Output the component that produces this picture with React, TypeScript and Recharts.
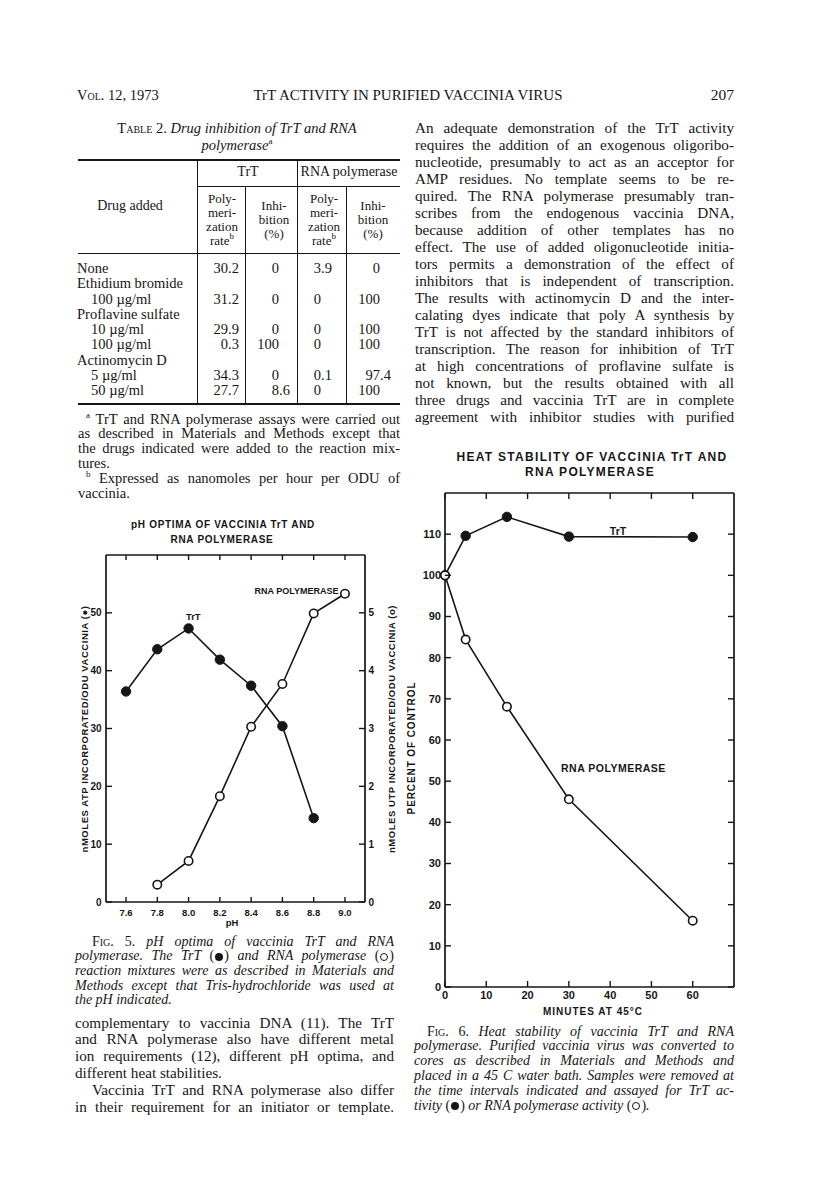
import React from "react";
import { LineChart, Line, XAxis, YAxis, ReferenceDot } from "recharts";

const INK = "#161616";
const SERIF = "'Liberation Serif', 'Times New Roman', serif";
const SANS = "'Liberation Sans', Arial, sans-serif";

// Fig. 5 – pH optima
const PH = [7.6, 7.8, 8.0, 8.2, 8.4, 8.6, 8.8, 9.0];
const TRT_ATP = [36.4, 43.7, 47.3, 41.9, 37.4, 30.4, 14.5, null];
const RNA_UTP = [null, 0.3, 0.71, 1.83, 3.03, 3.77, 4.99, 5.33];
const ATP_TICKS = [0, 10, 20, 30, 40, 50];
const UTP_TICKS = [0, 1, 2, 3, 4, 5];

// Fig. 6 – heat stability
const MINUTES = [0, 5, 15, 30, 60];
const TRT_PCT = [100, 109.6, 114.2, 109.4, 109.3];
const RNA_PCT = [100, 84.4, 68.1, 45.6, 16.1];
const MIN_TICKS = [0, 10, 20, 30, 40, 50, 60];
const PCT_TICKS = [0, 10, 20, 30, 40, 50, 60, 70, 80, 90, 100, 110];

// Table 2
const DRUGS = ["None", "Ethidium bromide", "100 \u00b5g/ml", "Proflavine sulfate", "10 \u00b5g/ml", "100 \u00b5g/ml", "Actinomycin D", "5 \u00b5g/ml", "50 \u00b5g/ml"];
const DOSE_ROW = [false, false, true, false, true, true, false, true, true];
const TRT_RATE = ["30.2", "", "31.2", "", "29.9", "0.3", "", "34.3", "27.7"];
const TRT_INHIB = ["0", "", "0", "", "0", "100", "", "0", "8.6"];
const RNA_RATE = ["3.9", "", "0", "", "0", "0", "", "0.1", "0"];
const RNA_INHIB = ["0", "", "100", "", "100", "100", "", "97.4", "100"];

const AXIS = { stroke: INK, strokeWidth: 1.7 };
const tickFont = { fontFamily: SANS, fontWeight: 700, fill: INK };

const bottomTick = (size: number, len: number, gap: number, fmt: (v: number) => string) => (p: any) => (
  <g>
    <line x1={p.x} x2={p.x} y1={p.y} y2={p.y - len} stroke={INK} strokeWidth={1.4} />
    <text x={p.x} y={p.y + gap} dy="0.35em" textAnchor="middle" fontSize={size} {...tickFont}>
      {fmt(p.payload.value)}
    </text>
  </g>
);

const topTick = (len: number) => (p: any) => (
  <line x1={p.x} x2={p.x} y1={p.y} y2={p.y + len} stroke={INK} strokeWidth={1.4} />
);

const leftTick = (size: number, len: number, gap: number) => (p: any) => (
  <g>
    <line x1={p.x} x2={p.x + len} y1={p.y} y2={p.y} stroke={INK} strokeWidth={1.4} />
    <text x={p.x - gap} y={p.y} dy="0.35em" textAnchor="end" fontSize={size} {...tickFont}>
      {p.payload.value}
    </text>
  </g>
);

const rightTick = (size: number, len: number, gap: number, show: boolean) => (p: any) => (
  <g>
    <line x1={p.x} x2={p.x - len} y1={p.y} y2={p.y} stroke={INK} strokeWidth={1.4} />
    {show && (
      <text x={p.x + gap} y={p.y} dy="0.35em" textAnchor="start" fontSize={size} {...tickFont}>
        {p.payload.value}
      </text>
    )}
  </g>
);

const FILLED = { r: 4.7, fill: INK, stroke: INK, strokeWidth: 1 };
const OPEN = { r: 4.2, fill: "#fff", stroke: INK, strokeWidth: 1.6 };

function PhChart() {
  const data = PH.map((ph, i) => ({ ph, trt: TRT_ATP[i], rna: RNA_UTP[i] }));
  const dom: [number, number] = [7.472, 9.128];
  return (
    <div style={{ position: "absolute", left: 60, top: 500 }}>
      <LineChart width={350} height={440} data={data} margin={{ top: 0, right: 0, bottom: 0, left: 0 }}>
        <XAxis xAxisId="top" orientation="top" dataKey="ph" type="number" domain={dom} ticks={PH} interval={0}
          height={55} tickSize={0} tickMargin={0} tickLine={false} axisLine={AXIS} tick={topTick(5)} />
        <XAxis xAxisId="bottom" dataKey="ph" type="number" domain={dom} ticks={PH} interval={0}
          height={38} tickSize={0} tickMargin={0} tickLine={false} axisLine={AXIS}
          tick={bottomTick(9.5, 5, 11, (v) => v.toFixed(1))} />
        <YAxis yAxisId="atp" domain={[0, 60]} ticks={ATP_TICKS} interval={0} width={46}
          tickSize={0} tickMargin={0} tickLine={false} axisLine={AXIS} tick={leftTick(10, 6, 4.5)} />
        <YAxis yAxisId="utp" orientation="right" domain={[0, 6]} ticks={UTP_TICKS} interval={0} width={45}
          tickSize={0} tickMargin={0} tickLine={false} axisLine={AXIS} tick={rightTick(10, 6, 3.5, true)} />
        <Line xAxisId="top" yAxisId="atp" type="linear" dataKey="trt" stroke={INK} strokeWidth={1.6}
          dot={FILLED} activeDot={false} isAnimationActive={false} />
        <Line xAxisId="bottom" yAxisId="utp" type="linear" dataKey="rna" stroke={INK} strokeWidth={1.6}
          dot={OPEN} activeDot={false} isAnimationActive={false} />
        <ReferenceDot xAxisId="bottom" yAxisId="atp" x={8.03} y={49.3} r={0} fill="none" stroke="none"
          label={{ value: "TrT", position: "center", fontSize: 9.5, fontWeight: 700, fontFamily: SANS, fill: INK }} />
        <ReferenceDot xAxisId="bottom" yAxisId="utp" x={8.69} y={5.38} r={0} fill="none" stroke="none"
          label={{ value: "RNA  POLYMERASE", position: "center", fontSize: 9, fontWeight: 700, fontFamily: SANS, fill: INK }} />
      </LineChart>
    </div>
  );
}

function HeatChart() {
  const data = MINUTES.map((m, i) => ({ m, trt: TRT_PCT[i], rna: RNA_PCT[i] }));
  return (
    <div style={{ position: "absolute", left: 400, top: 440 }}>
      <LineChart width={360} height={577} data={data} margin={{ top: 0, right: 0, bottom: 0, left: 0 }}>
        <XAxis xAxisId="top" orientation="top" dataKey="m" type="number" domain={[0, 70]} ticks={MIN_TICKS} interval={0}
          height={53} tickSize={0} tickMargin={0} tickLine={false} axisLine={AXIS} tick={topTick(6)} />
        <XAxis xAxisId="bottom" dataKey="m" type="number" domain={[0, 70]} ticks={MIN_TICKS} interval={0}
          height={30} tickSize={0} tickMargin={0} tickLine={false} axisLine={AXIS}
          tick={bottomTick(11, 6, 8, (v) => String(v))} />
        <YAxis yAxisId="pct" domain={[0, 120]} ticks={PCT_TICKS} interval={0} width={45}
          tickSize={0} tickMargin={0} tickLine={false} axisLine={AXIS} tick={leftTick(11, 6, 4)} />
        <YAxis yAxisId="pctR" orientation="right" domain={[0, 120]} ticks={PCT_TICKS} interval={0} width={26}
          tickSize={0} tickMargin={0} tickLine={false} axisLine={AXIS} tick={rightTick(11, 6, 3, false)} />
        <Line xAxisId="top" yAxisId="pct" type="linear" dataKey="trt" stroke={INK} strokeWidth={1.6}
          dot={FILLED} activeDot={false} isAnimationActive={false} />
        <Line xAxisId="bottom" yAxisId="pctR" type="linear" dataKey="rna" stroke={INK} strokeWidth={1.6}
          dot={OPEN} activeDot={false} isAnimationActive={false} />
        <ReferenceDot xAxisId="bottom" yAxisId="pct" x={41.9} y={110.8} r={0} fill="none" stroke="none"
          label={{ value: "TrT", position: "center", fontSize: 10.5, fontWeight: 700, fontFamily: SANS, fill: INK }} />
        <ReferenceDot xAxisId="bottom" yAxisId="pct" x={40.8} y={53.2} r={0} fill="none" stroke="none"
          label={{ value: "RNA POLYMERASE", position: "center", fontSize: 10.5, fontWeight: 700, fontFamily: SANS, fill: INK, letterSpacing: 0.5 }} />
      </LineChart>
    </div>
  );
}

type Ln = { t: React.ReactNode; j?: boolean; ind?: number };
const J = (t: React.ReactNode, ind = 0): Ln => ({ t, ind });
const L = (t: React.ReactNode, ind = 0): Ln => ({ t, j: false, ind });

function Para({ x, w, y0, step, size, lines, italic }: { x: number; w: number; y0: number; step: number; size: number; lines: Ln[]; italic?: boolean }) {
  return (
    <>
      {lines.map((l, i) => (
        <div key={i} style={{
          position: "absolute", left: x + (l.ind || 0), width: w - (l.ind || 0), top: y0 + i * step - step / 2,
          height: step, lineHeight: `${step}px`, fontSize: size, fontStyle: italic ? "italic" : "normal",
          whiteSpace: "nowrap", textAlign: l.j === false ? "left" : "justify",
          textAlignLast: l.j === false ? "left" : "justify",
        } as React.CSSProperties}>{l.t}</div>
      ))}
    </>
  );
}

function C({ cx, cy, size, children, style }: { cx: number; cy: number; size: number; children: React.ReactNode; style?: React.CSSProperties }) {
  return (
    <div style={{ position: "absolute", left: cx, top: cy, transform: "translate(-50%,-50%)", whiteSpace: "nowrap", fontSize: size, lineHeight: 1, ...style }}>
      {children}
    </div>
  );
}

function Rot({ cx, cy, size, children, style }: { cx: number; cy: number; size: number; children: React.ReactNode; style?: React.CSSProperties }) {
  return (
    <div style={{ position: "absolute", left: cx, top: cy, transform: "translate(-50%,-50%) rotate(-90deg)", whiteSpace: "nowrap", fontSize: size, lineHeight: 1, ...style }}>
      {children}
    </div>
  );
}

function Rule({ x, y, w, h }: { x: number; y: number; w: number; h: number }) {
  return <div style={{ position: "absolute", left: x, top: y, width: w, height: h, background: INK }} />;
}

function Num({ v, xi, cy }: { v: string; xi: number; cy: number }) {
  if (!v) return null;
  const [ip, fp] = v.split(".");
  const s: React.CSSProperties = { position: "absolute", top: cy - 8, lineHeight: "16px", fontSize: 14.5 };
  return (
    <>
      <div style={{ ...s, right: 816 - xi }}>{ip}</div>
      {fp !== undefined && <div style={{ ...s, left: xi }}>.{fp}</div>}
    </>
  );
}

// symbol marks used in the captions
const Mark = ({ filled }: { filled: boolean }) => (
  <span style={{ fontStyle: "normal" }}>
    (<span style={{
      display: "inline-block", width: 8, height: 8, borderRadius: "50%", margin: "0 1px",
      background: filled ? INK : "transparent", border: filled ? "none" : `1.3px solid ${INK}`,
      boxSizing: "border-box", verticalAlign: "-0.5px",
    }} />)
  </span>
);

const sc: React.CSSProperties = { fontVariant: "small-caps", fontStyle: "normal" };
const sup = (t: string) => <span style={{ fontSize: 9, verticalAlign: "super", lineHeight: 0 }}>{t}</span>;
const chartText: React.CSSProperties = { fontFamily: SANS, fontWeight: 700, color: INK };

function Table2() {
  const rowY = (i: number) => 268 + i * 15.25;
  return (
    <>
      <C cx={237} cy={128} size={14.5}><span style={sc}>Table 2.</span> <i>Drug inhibition of TrT and RNA</i></C>
      <C cx={237} cy={145} size={14.5}><i>polymerase</i>{sup("a")}</C>

      <Rule x={78} y={158.5} w={322} h={2} />
      <Rule x={197} y={160} w={1} h={243} />
      <Rule x={296.5} y={160} w={1} h={243} />
      <Rule x={244.5} y={186} w={1} h={217} />
      <Rule x={346} y={186} w={1} h={217} />
      <Rule x={197} y={186} w={203} h={1} />
      <Rule x={78} y={253} w={322} h={1} />
      <Rule x={78} y={402.5} w={322} h={2} />

      <C cx={248} cy={172} size={14}>TrT</C>
      <C cx={349} cy={172} size={14}>RNA polymerase</C>
      <C cx={130} cy={206} size={14}>Drug added</C>
      {["Poly-", "meri-", "zation"].map((t, i) => (
        <React.Fragment key={t}>
          <C cx={222} cy={198 + i * 13.8} size={13}>{t}</C>
          <C cx={324} cy={198 + i * 13.8} size={13}>{t}</C>
        </React.Fragment>
      ))}
      <C cx={222} cy={239.5} size={13}>rate{sup("b")}</C>
      <C cx={324} cy={239.5} size={13}>rate{sup("b")}</C>
      {["Inhi-", "bition", "(%)"].map((t, i) => (
        <React.Fragment key={t}>
          <C cx={274} cy={205 + i * 14} size={13}>{t}</C>
          <C cx={373} cy={205 + i * 14} size={13}>{t}</C>
        </React.Fragment>
      ))}

      {DRUGS.map((d, i) => (
        <div key={i} style={{ position: "absolute", left: DOSE_ROW[i] ? 91 : 77, top: rowY(i) - 8, lineHeight: "16px", fontSize: 14.5, whiteSpace: "nowrap" }}>{d}</div>
      ))}
      {DRUGS.map((_, i) => (
        <React.Fragment key={i}>
          <Num v={TRT_RATE[i]} xi={228} cy={rowY(i)} />
          <Num v={TRT_INHIB[i]} xi={279} cy={rowY(i)} />
          <Num v={RNA_RATE[i]} xi={321} cy={rowY(i)} />
          <Num v={RNA_INHIB[i]} xi={380} cy={rowY(i)} />
        </React.Fragment>
      ))}

      <Para x={78} w={322} y0={419} step={14.8} size={14.5} lines={[
        J(<>{sup("a")} TrT and RNA polymerase assays were carried out</>, 8),
        J("as described in Materials and Methods except that"),
        J("the drugs indicated were added to the reaction mix-"),
        L("tures."),
        J(<>{sup("b")} Expressed as nanomoles per hour per ODU of</>, 8),
        L("vaccinia."),
      ]} />
    </>
  );
}

export default function App() {
  return (
    <div style={{ position: "relative", width: 816, height: 1202, background: "#fff", color: INK, fontFamily: SERIF, overflow: "hidden" }}>
      <style>{"body{margin:0}"}</style>

      {/* running head */}
      <div style={{ position: "absolute", left: 77, top: 86, fontSize: 14.5, lineHeight: "18px", fontVariant: "small-caps" }}>Vol. 12, 1973</div>
      <C cx={408} cy={95} size={15}>TrT ACTIVITY IN PURIFIED VACCINIA VIRUS</C>
      <div style={{ position: "absolute", right: 816 - 734, top: 86, fontSize: 15.5, lineHeight: "18px" }}>207</div>

      <Table2 />

      {/* right column text */}
      <Para x={415} w={319} y0={127} step={17} size={15.2} lines={[
        J("An adequate demonstration of the TrT activity"),
        J("requires the addition of an exogenous oligoribo-"),
        J("nucleotide, presumably to act as an acceptor for"),
        J("AMP residues. No template seems to be re-"),
        J("quired. The RNA polymerase presumably tran-"),
        J("scribes from the endogenous vaccinia DNA,"),
        J("because addition of other templates has no"),
        J("effect. The use of added oligonucleotide initia-"),
        J("tors permits a demonstration of the effect of"),
        J("inhibitors that is independent of transcription."),
        J("The results with actinomycin D and the inter-"),
        J("calating dyes indicate that poly A synthesis by"),
        J("TrT is not affected by the standard inhibitors of"),
        J("transcription. The reason for inhibition of TrT"),
        J("at high concentrations of proflavine sulfate is"),
        J("not known, but the results obtained with all"),
        J("three drugs and vaccinia TrT are in complete"),
        J("agreement with inhibitor studies with purified"),
      ]} />

      {/* Fig. 5 */}
      <C cx={223} cy={525} size={10} style={{ ...chartText, letterSpacing: 0.7 }}>pH OPTIMA OF VACCINIA TrT AND</C>
      <C cx={222} cy={540} size={10} style={{ ...chartText, letterSpacing: 0.7 }}>RNA POLYMERASE</C>
      <PhChart />
      <Rot cx={85} cy={729} size={9.5} style={{ ...chartText, letterSpacing: 0.55 }}>nMOLES ATP INCORPORATED/ODU VACCINIA (●)</Rot>
      <Rot cx={392} cy={729} size={9.5} style={{ ...chartText, letterSpacing: 0.55 }}>nMOLES UTP INCORPORATED/ODU VACCINIA (o)</Rot>
      <C cx={232} cy={923} size={9.5} style={chartText}>pH</C>

      <Para x={75} w={319} y0={942} step={14.7} size={14} italic lines={[
        J(<><span style={sc}>Fig. 5.</span> pH optima of vaccinia TrT and RNA</>, 17),
        J(<>polymerase. The TrT <Mark filled /> and RNA polymerase <Mark filled={false} /></>),
        J("reaction mixtures were as described in Materials and"),
        J("Methods except that Tris-hydrochloride was used at"),
        L("the pH indicated."),
      ]} />
      <Para x={75} w={319} y0={1023} step={16.8} size={15.2} lines={[
        J("complementary to vaccinia DNA (11). The TrT"),
        J("and RNA polymerase also have different metal"),
        J("ion requirements (12), different pH optima, and"),
        L("different heat stabilities."),
        J("Vaccinia TrT and RNA polymerase also differ", 17),
        J("in their requirement for an initiator or template."),
      ]} />

      {/* Fig. 6 */}
      <C cx={592} cy={457} size={12} style={{ ...chartText, letterSpacing: 1.3 }}>HEAT STABILITY OF VACCINIA TrT AND</C>
      <C cx={590} cy={472} size={12} style={{ ...chartText, letterSpacing: 1.3 }}>RNA POLYMERASE</C>
      <HeatChart />
      <Rot cx={412} cy={748} size={10} style={{ ...chartText, letterSpacing: 0.9 }}>PERCENT OF CONTROL</Rot>
      <C cx={593} cy={1012} size={10} style={{ ...chartText, letterSpacing: 1 }}>MINUTES AT 45°C</C>

      <Para x={414} w={320} y0={1032} step={14.8} size={14} italic lines={[
        J(<><span style={sc}>Fig. 6.</span> Heat stability of vaccinia TrT and RNA</>, 13),
        J("polymerase. Purified vaccinia virus was converted to"),
        J("cores as described in Materials and Methods and"),
        J("placed in a 45 C water bath. Samples were removed at"),
        J("the time intervals indicated and assayed for TrT ac-"),
        L(<>tivity <Mark filled /> or RNA polymerase activity <Mark filled={false} />.</>),
      ]} />
    </div>
  );
}
